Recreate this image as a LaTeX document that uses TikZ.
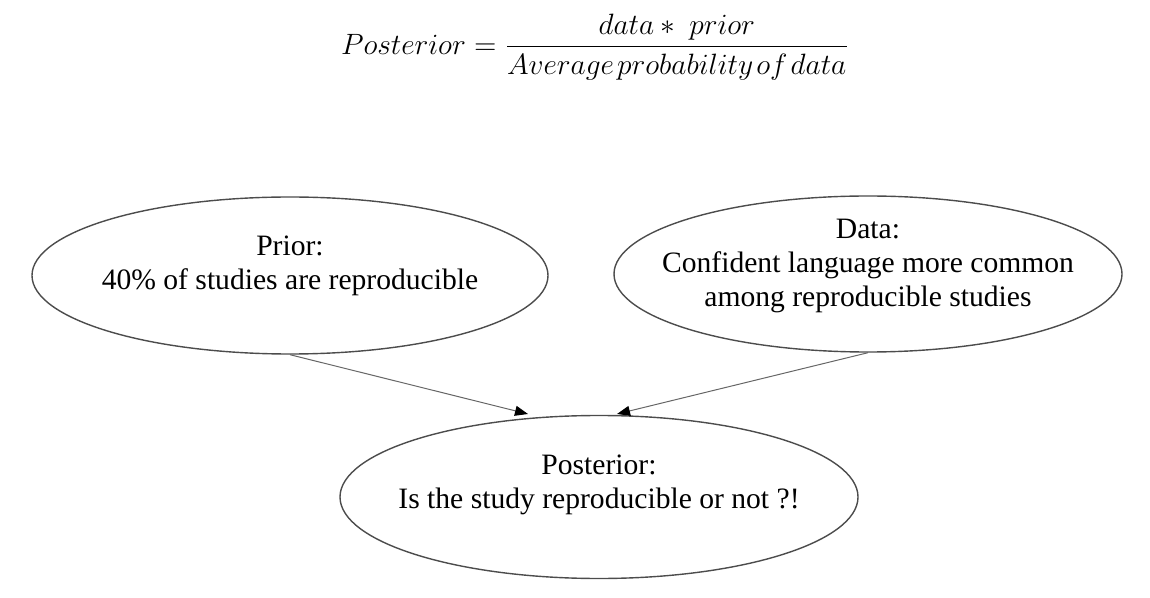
\RequirePackage{fix-cm}
\documentclass[tikz,border=0pt]{standalone}
\usepackage{amsmath}
\usepackage[no-math]{fontspec}
\setmainfont{Liberation Serif}
\usetikzlibrary{arrows.meta,shapes.geometric}

\begin{document}
\begin{tikzpicture}[x=.5pt,y=-.5pt,>={Triangle[length=6.5pt,width=5pt,black]},
  blob/.style={ellipse,draw=black!70,line width=.7pt,inner sep=0pt},
  txt/.style={align=center,inner sep=0pt,font=\fontsize{14.8}{17}\selectfont},
  link/.style={->,draw=black!60,line width=.5pt}]
  \useasboundingbox (0,0) rectangle (1150,598);
  % formula
  \node[inner sep=0pt,font=\fontsize{14.7}{18}\selectfont] (rule) at (595,47)
    {$Posterior = \dfrac{data * \ prior}{Average\mkern2mu probability\mkern2mu of\mkern2mu data}$};
  % ellipses
  \node[blob,minimum width=258pt,minimum height=78.5pt] (prior) at (290,275.5) {};
  \node[blob,minimum width=254pt,minimum height=78pt] (data) at (868,274) {};
  \node[blob,minimum width=259pt,minimum height=81.5pt] (post) at (599,497) {};
  \node[txt,yshift=5pt] (priortxt) at (prior.center) {Prior:\\40\% of studies are reproducible};
  \node[txt,yshift=4pt] (datatxt) at (data.center) {Data:\\Confident language more common\\among reproducible studies};
  \node[txt,yshift=6pt] (posttxt) at (post.center) {Posterior:\\Is the study reproducible or not ?!};
  % arrows
  \coordinate (inl) at (528,414);
  \coordinate (inr) at (617,414);
  \draw[link] (prior.south) -- (inl);
  \draw[link] (data.south) -- (inr);
\end{tikzpicture}
\end{document}
